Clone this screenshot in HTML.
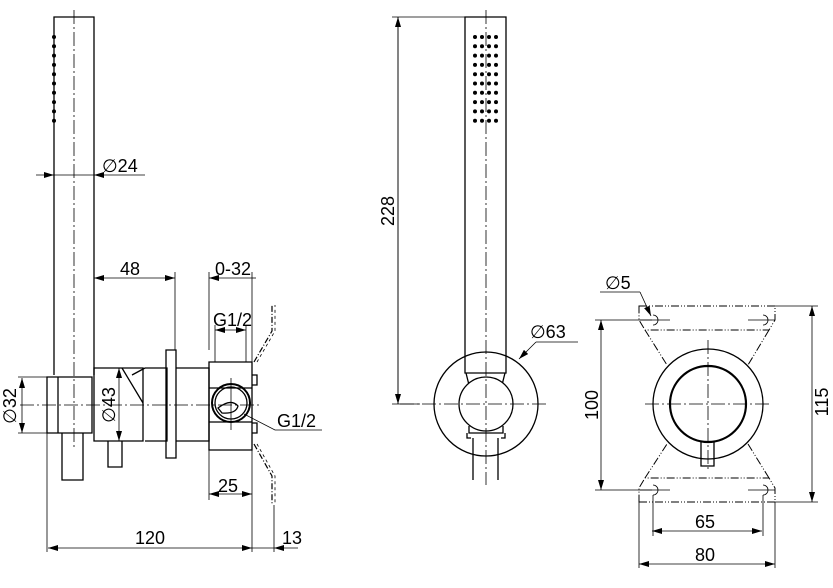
<!DOCTYPE html>
<html><head><meta charset="utf-8"><style>
html,body{margin:0;padding:0;background:#fff}
svg{display:block}
text{font-family:"Liberation Sans",Arial,sans-serif;font-size:18px;fill:#000}
</style></head><body>
<svg width="833" height="588" viewBox="0 0 833 588" xmlns="http://www.w3.org/2000/svg">
<defs>
<marker id="a" viewBox="0 0 10 6" refX="10" refY="3" markerWidth="10" markerHeight="6" orient="auto-start-reverse" markerUnits="userSpaceOnUse"><path d="M0,0L10,3L0,6z" fill="#000"/></marker>
</defs>
<g fill="none" stroke="#000" stroke-width="1.3">
<!-- LEFT VIEW -->
<path d="M54,375V17H94V375"/>
<line x1="74" y1="10" x2="74" y2="450" stroke-width="0.8" stroke-dasharray="14,3,2,3"/>
<path d="M47,377H92V433H47Z"/>
<path d="M58,377V433"/>
<path d="M62,433V480H83V433"/>
<path d="M94,368H143V441H94Z"/>
<path d="M122,368L143,403M132,375L145,368"/>
<path d="M108,441V467H122V441"/>
<path d="M145,368H167V441H145"/>
<path d="M166,350H176V458H166Z"/>
<path d="M176,368H209V441H176"/>
<path d="M209,362H252V450H209Z"/>
<path d="M209,388H252M209,422H252"/>
<circle cx="231" cy="403" r="19" stroke-width="2"/>
<circle cx="231" cy="403" r="16"/>
<path d="M218,408Q231,398 238,406Q236,414 222,413Z"/>
<path d="M252,375h5v10h-5M252,423h5v10h-5"/>
<line x1="20" y1="405" x2="262" y2="405" stroke-width="0.8" stroke-dasharray="14,3,2,3"/>
<line x1="231" y1="378" x2="231" y2="430" stroke-width="0.8"/>
<path d="M254,362L272,331V305M254,444L272,476V505" stroke-width="1.2" stroke-dasharray="6,2,1,2"/>
<path d="M257,362L275,331V305M257,444L275,476V505" stroke-width="0.8" stroke-dasharray="3,3"/>
<!-- dims left -->
<g stroke-width="0.8">
<path d="M94,375V272M175,350V272M209,350V272M252,362V272"/>
<line x1="94" y1="278" x2="175" y2="278" marker-start="url(#a)" marker-end="url(#a)"/>
<line x1="209" y1="278" x2="252" y2="278" marker-start="url(#a)"/>
<line x1="252" y1="278" x2="256" y2="278"/>
<path d="M215,362V325M246,362V325"/>
<line x1="215" y1="330" x2="246" y2="330" marker-start="url(#a)" marker-end="url(#a)"/>
<path d="M244,414L275,430H322"/>
<path d="M209,450V500M252,450V552M47,433V552M274,505V552"/>
<line x1="209" y1="494" x2="252" y2="494" marker-start="url(#a)" marker-end="url(#a)"/>
<line x1="48" y1="548" x2="252" y2="548" marker-start="url(#a)" marker-end="url(#a)"/>
<line x1="252" y1="548" x2="274" y2="548"/>
<line x1="298" y1="548" x2="274" y2="548" marker-end="url(#a)"/>
<path d="M47,377H18M47,433H18"/>
<line x1="22" y1="378" x2="22" y2="433" marker-start="url(#a)" marker-end="url(#a)"/>
<line x1="119" y1="368" x2="119" y2="441" marker-start="url(#a)" marker-end="url(#a)"/>
<line x1="36" y1="175" x2="54" y2="175" marker-end="url(#a)"/>
<line x1="54" y1="175" x2="94" y2="175"/>
<line x1="112" y1="175" x2="94" y2="175" marker-end="url(#a)"/>
<line x1="112" y1="175" x2="145" y2="175"/>
</g>
<!-- MIDDLE VIEW -->
<circle cx="486" cy="404" r="52"/>
<path d="M465,373V17H506V373H465Z"/>
<path d="M466,373L469,385M505,373L502,385"/>
<circle cx="486" cy="404" r="27" fill="#fff"/>
<path d="M469,426V433H503V426"/>
<path d="M467,433v5h4M505,433v5h-4"/>
<path d="M473,438V480M498,438V480"/>
<line x1="486" y1="10" x2="486" y2="485" stroke-width="0.8" stroke-dasharray="14,3,2,3"/>
<line x1="400" y1="404" x2="548" y2="404" stroke-width="0.8" stroke-dasharray="14,3,2,3"/>
<g stroke-width="0.8">
<path d="M392,17H465M392,404H420"/>
<line x1="398" y1="404" x2="398" y2="17" marker-end="url(#a)"/>
<line x1="398" y1="17" x2="398" y2="404" marker-end="url(#a)"/>
<path d="M536,342H578"/>
<line x1="536" y1="342" x2="519" y2="359" marker-end="url(#a)"/>
</g>
<!-- RIGHT VIEW -->
<g stroke-width="1" stroke-dasharray="8,2,1,2,1,2">
<path d="M639,306H775V320L769,330H645L639,320Z"/>
<path d="M645,330L667,365M769,330L748,365M645,478L667,444M769,478L748,444"/>
<path d="M639,502H775V488L769,478H645L639,488Z"/>
</g>
<circle cx="708" cy="404" r="55"/>
<circle cx="708" cy="404" r="38" stroke-width="2.2"/>
<path d="M701,441V466H714V441"/>
<line x1="708" y1="340" x2="708" y2="470" stroke-width="0.8" stroke-dasharray="14,3,2,3"/>
<line x1="645" y1="404" x2="772" y2="404" stroke-width="0.8" stroke-dasharray="14,3,2,3"/>
<g stroke-width="0.8">
<path d="M653,315a5,5 0 0 1 0,10M763,315a5,5 0 0 1 0,10M653,485a5,5 0 0 1 0,10M763,485a5,5 0 0 1 0,10"/>
<path d="M640,320H670M748,320H775M640,490H670M748,490H775"/>
<path d="M595,320H652M595,490H652M775,306H818M775,502H818"/>
<line x1="601" y1="320" x2="601" y2="490" marker-start="url(#a)" marker-end="url(#a)"/>
<line x1="812" y1="306" x2="812" y2="502" marker-start="url(#a)" marker-end="url(#a)"/>
<path d="M653,495V536M763,495V536M639,502V568M775,502V568"/>
<line x1="652" y1="531" x2="762" y2="531" marker-start="url(#a)" marker-end="url(#a)"/>
<line x1="639" y1="564" x2="775" y2="564" marker-start="url(#a)" marker-end="url(#a)"/>
<path d="M600,292H640"/>
<line x1="640" y1="292" x2="651" y2="316" marker-end="url(#a)"/>
</g>
</g>
<!-- dots -->
<g fill="#000">
<circle cx="54" cy="37" r="2"/><circle cx="54" cy="46.3" r="2"/><circle cx="54" cy="55.6" r="2"/><circle cx="54" cy="64.9" r="2"/><circle cx="54" cy="74.2" r="2"/><circle cx="54" cy="83.5" r="2"/><circle cx="54" cy="92.8" r="2"/><circle cx="54" cy="102.1" r="2"/><circle cx="54" cy="111.4" r="2"/><circle cx="54" cy="120.7" r="2"/>
</g>
<g fill="#000">
<g id="r"><circle cx="475" cy="37" r="2"/><circle cx="482" cy="37" r="2"/><circle cx="489" cy="37" r="2"/><circle cx="496" cy="37" r="2"/></g>
<use href="#r" y="9.3"/><use href="#r" y="18.6"/><use href="#r" y="27.9"/><use href="#r" y="37.2"/><use href="#r" y="46.5"/><use href="#r" y="55.8"/><use href="#r" y="65.1"/><use href="#r" y="74.4"/><use href="#r" y="83.7"/>
</g>
<!-- text -->
<text x="120" y="275">48</text>
<text x="215" y="275">0-32</text>
<text x="213" y="326">G1/2</text>
<text x="277" y="427">G1/2</text>
<text x="218" y="492">25</text>
<text x="135" y="544">120</text>
<text x="282" y="544">13</text>
<text x="102" y="172">∅24</text>
<text transform="translate(16,406) rotate(-90)" text-anchor="middle">∅32</text>
<text transform="translate(115,405) rotate(-90)" text-anchor="middle">∅43</text>
<text transform="translate(394,211) rotate(-90)" text-anchor="middle">228</text>
<text x="530" y="338">∅63</text>
<text x="605" y="289">∅5</text>
<text transform="translate(598,405) rotate(-90)" text-anchor="middle">100</text>
<text transform="translate(828,402) rotate(-90)" text-anchor="middle">115</text>
<text x="695" y="528">65</text>
<text x="695" y="561">80</text>
</svg>
</body></html>
